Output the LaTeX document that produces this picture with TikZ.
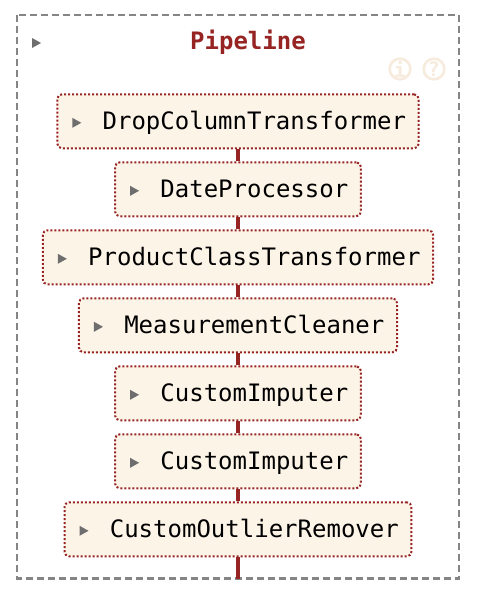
\documentclass[tikz,border=0pt]{standalone}
\usepackage{fontspec}
\setmonofont{DejaVu Sans Mono}
\usetikzlibrary{calc}
\definecolor{skred}{HTML}{962422}
\definecolor{skfill}{HTML}{FDF4E8}
\definecolor{skicon}{HTML}{F6EBDD}
\definecolor{skgray}{HTML}{858585}
\definecolor{skarrow}{HTML}{6E6E6E}
\tikzset{
  x=0.75pt,y=-0.75pt,
  frame/.style={draw=skgray,line width=1.6pt,dash pattern=on 5.25pt off 3pt},
  stepbox/.style={draw=skred,fill=skfill,line width=1.5pt,dash pattern=on 1.5pt off 1.5pt,
    rounded corners=3.5pt,minimum height=40.5pt,inner xsep=0pt,inner ysep=0pt,
    text height=16pt,text depth=3.2pt,
    font=\ttfamily\fontsize{18}{22}\selectfont,anchor=north},
  link/.style={draw=skred,line width=3pt},
  tri/.style={fill=skarrow,draw=none},
  icon/.style={circle,draw=skicon,line width=2pt,minimum size=15.5pt,inner sep=0pt,text=skicon,
    font=\ttfamily\bfseries\fontsize{15}{15}\selectfont},
  title/.style={text=skred,font=\ttfamily\bfseries\fontsize{18}{22}\selectfont}
}
\newcommand{\steptext}[1]{\hspace{34pt}#1\kern9.5pt\null}
\newcommand{\triat}[2]{\fill[tri] ($(#1.west)+(#2,-3.5)$) -- ++(0,10) -- ++(9,-5) -- cycle;}
\begin{document}
\begin{tikzpicture}
\useasboundingbox (0,0) rectangle (476,592);
\coordinate (top) at (17,15);
\coordinate (bot) at (459,578.5);
\draw[frame] (top) rectangle (bot);
\coordinate (end) at (238,578.5);
\node[stepbox] (a) at (238,93.3)  {\steptext{DropColumnTransformer}};
\node[stepbox] (b) at (238,161.3) {\steptext{DateProcessor}};
\node[stepbox] (c) at (238,229.3) {\steptext{ProductClassTransformer}};
\node[stepbox] (d) at (238,297.3) {\steptext{MeasurementCleaner}};
\node[stepbox] (e) at (238,365.3) {\steptext{CustomImputer}};
\node[stepbox] (f) at (238,433.3) {\steptext{CustomImputer}};
\node[stepbox] (g) at (238,501.3) {\steptext{CustomOutlierRemover}};
\draw[link] (a) -- (b);
\draw[link] (b) -- (c);
\draw[link] (c) -- (d);
\draw[link] (d) -- (e);
\draw[link] (e) -- (f);
\draw[link] (f) -- (g);
\draw[link] (g) -- (end);
\foreach \n in {a,b,c,d,e,f,g}{\triat{\n}{16}}
\node[title] (t) at (248,42) {Pipeline};
\fill[tri] (32,38) -- (32,48) -- (41,43) -- cycle;
\node[icon] (i1) at (400,69) {i};
\node[icon] (i2) at (434,69) {?};
\end{tikzpicture}
\end{document}
